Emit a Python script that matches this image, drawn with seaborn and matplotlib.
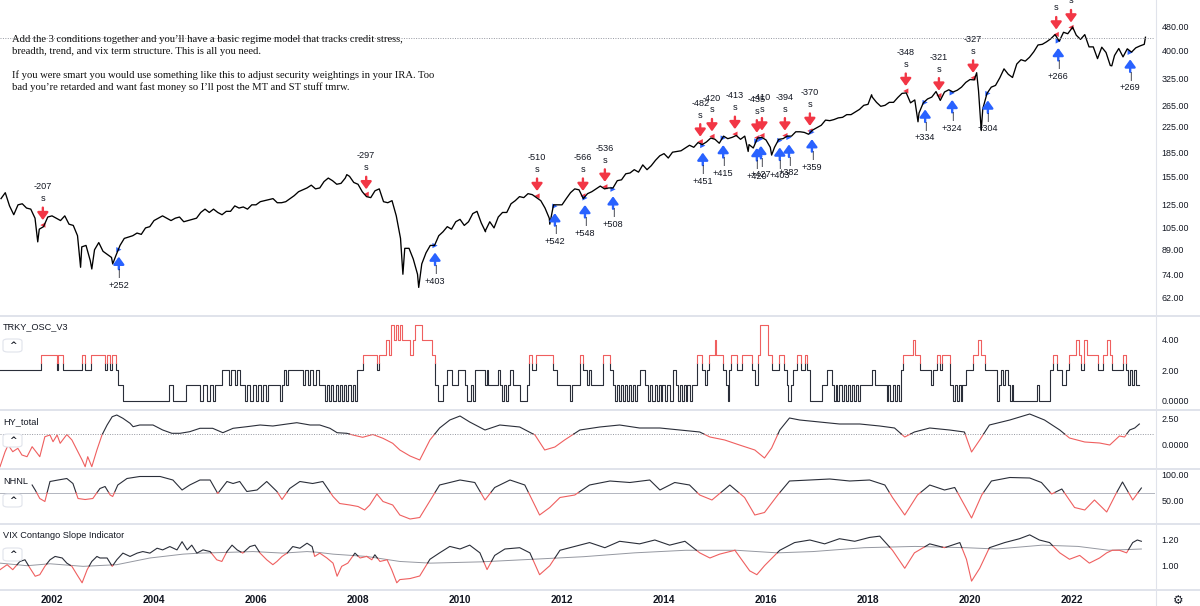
import numpy as np
import pandas as pd
import seaborn as sns
import matplotlib.pyplot as plt
from matplotlib.lines import Line2D
from matplotlib.patches import FancyBboxPatch
from matplotlib.ticker import NullLocator

plt.rcParams['font.family'] = ['Liberation Sans', 'DejaVu Sans']

# ---------------- data ----------------
# SPY month-end closes, Dec 2000 .. May 2023
spy_monthly = [
    131,
    137, 124, 116, 125, 126, 122, 121, 113, 104, 106, 114, 115,  # 2001
    113, 111, 115, 108, 107, 99, 91, 92, 82, 89, 94, 88,         # 2002
    86, 84, 85, 92, 97, 98, 99, 101, 100, 105, 106, 111,         # 2003
    113, 115, 113, 111, 113, 114, 110, 111, 112, 113, 118, 121,  # 2004
    118, 121, 118, 116, 119, 119, 124, 122, 123, 121, 125, 125,  # 2005
    128, 129, 130, 131, 127, 127, 128, 131, 134, 138, 140, 142,  # 2006
    145, 141, 142, 149, 153, 150, 146, 147, 153, 155, 148, 146,  # 2007
    138, 133, 132, 139, 141, 128, 127, 129, 115, 97, 90, 90,     # 2008
    83, 74, 80, 87, 92, 92, 99, 102, 106, 104, 110, 112,         # 2009
    107, 110, 117, 119, 109, 103, 110, 105, 114, 118, 118, 126,  # 2010
    129, 133, 132, 136, 135, 132, 129, 122, 113, 125, 125, 125,  # 2011
    131, 137, 141, 140, 131, 136, 138, 141, 144, 141, 142, 142,  # 2012
    150, 151, 158, 159, 163, 160, 169, 163, 168, 175, 181, 184,  # 2013
    178, 186, 187, 188, 192, 196, 193, 200, 197, 201, 207, 205,  # 2014
    199, 210, 206, 208, 211, 205, 210, 197, 192, 207, 208, 204,  # 2015
    193, 193, 205, 206, 210, 210, 217, 217, 216, 213, 220, 224,  # 2016
    228, 237, 236, 238, 241, 242, 247, 247, 252, 257, 265, 267,  # 2017
    282, 271, 263, 265, 271, 271, 281, 290, 291, 270, 276, 250,  # 2018
    270, 278, 282, 294, 275, 293, 298, 293, 297, 304, 315, 322,  # 2019
    321, 296, 258, 290, 304, 308, 326, 349, 335, 327, 362, 374,  # 2020
    370, 381, 397, 418, 420, 428, 438, 452, 430, 460, 455, 475,  # 2021
    450, 436, 452, 412, 412, 377, 411, 395, 358, 386, 407, 382,  # 2022
    406, 396, 409, 415, 420,                                     # 2023
]
# intramonth extremes and the last print
spy_extra_t = [2001.72, 2002.56, 2002.78, 2003.19, 2007.78, 2008.88, 2009.19, 2010.50, 2011.76,
               2015.65, 2016.11, 2018.07, 2018.98, 2020.13, 2020.22, 2022.01, 2022.78, 2023.44]
spy_extra_p = [94.5, 78, 77, 80, 157, 74, 67, 102, 108,
               187, 182, 287, 234, 339, 219, 479, 357, 443]
last_price = 442

sell_t = [2001.82, 2008.16, 2011.51, 2012.41, 2012.84, 2014.71, 2014.94, 2015.39, 2015.82,
          2015.92, 2016.37, 2016.86, 2018.74, 2019.39, 2020.06, 2021.69, 2021.98]
sell_lbl = ['-207', '-297', '-510', '-566', '-536', '-482', '-420', '-413', '-435',
            '-410', '-394', '-370', '-348', '-321', '-327', '', '']
buy_t = [2003.31, 2009.51, 2011.86, 2012.45, 2013.00, 2014.76, 2015.16, 2015.82, 2015.90,
         2016.27, 2016.45, 2016.90, 2019.12, 2019.65, 2020.35, 2021.73, 2023.14]
buy_lbl = ['+252', '+403', '+542', '+548', '+508', '+451', '+415', '+420', '+427',
           '+403', '+382', '+359', '+334', '+324', '+304', '+266', '+269']

# TRKY_OSC_V3 step changes
trky_t = [2000.98, 2001.78, 2002.10, 2002.12, 2002.21, 2002.59, 2002.65, 2002.76, 2003.04, 2003.08,
          2003.14, 2003.18, 2003.25, 2003.29, 2003.39, 2004.29, 2004.37, 2004.63, 2004.90, 2004.96,
          2005.04, 2005.10, 2005.15, 2005.19, 2005.33, 2005.47, 2005.51, 2005.59, 2005.63, 2005.68,
          2005.78, 2005.82, 2005.88, 2005.94, 2006.00, 2006.04, 2006.10, 2006.13, 2006.19, 2006.23,
          2006.47, 2006.51, 2006.55, 2006.59, 2006.62, 2006.92, 2006.96, 2007.02, 2007.06, 2007.11,
          2007.17, 2007.23, 2007.35, 2007.39, 2007.43, 2007.47, 2007.51, 2007.57, 2007.60, 2007.64,
          2007.68, 2007.72, 2007.76, 2007.80, 2007.86, 2007.90, 2007.94, 2007.98, 2008.09, 2008.37,
          2008.41, 2008.55, 2008.60, 2008.64, 2008.70, 2008.74, 2008.78, 2008.82, 2008.86, 2009.02,
          2009.07, 2009.11, 2009.25, 2009.45, 2009.51, 2009.56, 2009.66, 2009.74, 2009.84, 2009.96,
          2010.09, 2010.13, 2010.21, 2010.25, 2010.29, 2010.49, 2010.53, 2010.54, 2010.74, 2010.78,
          2010.82, 2010.86, 2010.90, 2010.94, 2010.98, 2011.03, 2011.17, 2011.31, 2011.35, 2011.41,
          2011.49, 2011.82, 2011.90, 2012.15, 2012.19, 2012.35, 2012.41, 2012.49, 2012.52, 2012.56,
          2012.80, 2012.94, 2012.99, 2013.03, 2013.07, 2013.11, 2013.15, 2013.19, 2013.23, 2013.27,
          2013.31, 2013.35, 2013.39, 2013.43, 2013.47, 2013.52, 2013.62, 2013.68, 2013.72, 2013.76,
          2013.82, 2013.86, 2013.90, 2013.94, 2013.97, 2014.01, 2014.05, 2014.11, 2014.17, 2014.23,
          2014.27, 2014.31, 2014.35, 2014.39, 2014.43, 2014.46, 2014.50, 2014.54, 2014.64, 2014.74,
          2014.80, 2014.84, 2014.88, 2014.99, 2015.01, 2015.15, 2015.21, 2015.25, 2015.27, 2015.31,
          2015.44, 2015.52, 2015.72, 2015.78, 2015.84, 2015.88, 2016.03, 2016.11, 2016.25, 2016.35,
          2016.41, 2016.44, 2016.48, 2016.52, 2016.60, 2016.68, 2016.76, 2016.80, 2016.86, 2017.09,
          2017.19, 2017.29, 2017.33, 2017.37, 2017.40, 2017.44, 2017.48, 2017.52, 2017.56, 2017.60,
          2017.64, 2017.68, 2017.72, 2017.76, 2017.80, 2017.84, 2018.07, 2018.13, 2018.37, 2018.40,
          2018.44, 2018.48, 2018.52, 2018.56, 2018.60, 2018.64, 2018.68, 2018.89, 2018.93, 2019.01,
          2019.23, 2019.27, 2019.36, 2019.42, 2019.46, 2019.60, 2019.66, 2019.70, 2019.74, 2019.78,
          2019.82, 2019.85, 2019.93, 2020.05, 2020.15, 2020.21, 2020.29, 2020.52, 2020.56, 2020.60,
          2020.64, 2020.68, 2020.74, 2020.78, 2020.82, 2020.85, 2021.31, 2021.36, 2021.56, 2021.62,
          2021.70, 2021.81, 2021.89, 2021.95, 2022.07, 2022.13, 2022.17, 2022.23, 2022.29, 2022.50,
          2022.60, 2022.68, 2022.74, 2022.79, 2022.99, 2023.05, 2023.09, 2023.13, 2023.17, 2023.21,
          2023.25, 2023.32]
trky_v = [2, 3, 2, 3, 2, 3, 2, 3, 2, 3,
          2, 3, 2, 1, 0, 1, 0, 1, 0, 1,
          0, 1, 0, 1, 2, 1, 2, 1, 2, 1,
          0, 1, 0, 1, 0, 1, 0, 1, 0, 1,
          0, 1, 2, 1, 2, 1, 2, 1, 2, 1,
          2, 1, 0, 1, 0, 1, 0, 1, 0, 1,
          0, 1, 0, 1, 0, 1, 0, 2, 3, 2,
          3, 4, 3, 5, 4, 5, 4, 5, 4, 3,
          4, 5, 4, 3, 1, 0, 1, 2, 1, 2,
          1, 0, 1, 0, 2, 1, 2, 1, 2, 1,
          0, 1, 0, 1, 2, 1, 0, 1, 3, 2,
          3, 2, 1, 0, 1, 3, 2, 1, 2, 1,
          3, 2, 1, 0, 1, 0, 1, 0, 1, 0,
          1, 0, 1, 0, 1, 2, 1, 0, 1, 0,
          1, 0, 1, 0, 1, 0, 1, 0, 2, 1,
          0, 1, 0, 1, 0, 1, 0, 1, 3, 2,
          1, 2, 3, 4, 3, 2, 1, 0, 2, 3,
          2, 3, 2, 1, 3, 5, 3, 2, 3, 2,
          1, 0, 1, 2, 3, 2, 3, 2, 0, 1,
          2, 1, 0, 1, 0, 1, 0, 1, 0, 1,
          0, 1, 0, 1, 0, 1, 2, 1, 0, 1,
          0, 1, 0, 1, 0, 2, 3, 4, 3, 2,
          1, 2, 3, 2, 3, 1, 0, 1, 0, 1,
          0, 1, 2, 3, 4, 3, 2, 0, 1, 2,
          1, 2, 1, 0, 1, 0, 1, 0, 2, 3,
          2, 1, 2, 3, 4, 3, 2, 4, 3, 2,
          3, 4, 3, 2, 3, 2, 1, 2, 1, 2,
          1, 1]

hy_t = [2000.98, 2001.08, 2001.14, 2001.23, 2001.33, 2001.41, 2001.51, 2001.61, 2001.71, 2001.76,
        2001.86, 2001.96, 2002.02, 2002.10, 2002.16, 2002.29, 2002.39, 2002.49, 2002.59, 2002.65,
        2002.70, 2002.78, 2002.88, 2002.98, 2003.08, 2003.18, 2003.27, 2003.39, 2003.53, 2003.59,
        2003.72, 2003.98, 2004.17, 2004.35, 2004.51, 2004.70, 2004.90, 2005.15, 2005.35, 2005.55,
        2005.82, 2006.08, 2006.33, 2006.61, 2006.80, 2007.06, 2007.25, 2007.45, 2007.59, 2007.78,
        2007.90, 2008.09, 2008.29, 2008.49, 2008.68, 2008.82, 2009.02, 2009.21, 2009.41, 2009.60,
        2009.80, 2010.00, 2010.19, 2010.49, 2010.78, 2011.17, 2011.47, 2011.66, 2011.86, 2012.05,
        2012.35, 2012.74, 2013.13, 2013.52, 2013.92, 2014.31, 2014.70, 2014.90, 2015.19, 2015.48,
        2015.78, 2015.97, 2016.11, 2016.27, 2016.46, 2016.66, 2017.05, 2017.44, 2017.84, 2018.23,
        2018.52, 2018.72, 2018.91, 2019.21, 2019.60, 2019.89, 2020.03, 2020.19, 2020.38, 2020.78,
        2021.17, 2021.46, 2021.76, 2021.95, 2022.25, 2022.54, 2022.74, 2022.93, 2023.03, 2023.13,
        2023.23, 2023.32]
hy_v = [-2.27, -0.77, -0.1, -0.77, -0.43, -1.1, -1.27, -0.27, -0.93, -1.27,
        0.73, 0.9, 0.23, 0.9, 0.07, 0.95, 0.4, -0.6, -1.6, -2.27,
        -1.27, -2.27, -0.6, 0.9, 1.9, 2.73, 2.9, 2.57, 2.07, 1.73,
        1.9, 1.9, 1.4, 1.07, 1.07, 1.23, 1.57, 1.57, 1.13, 1.57,
        1.73, 1.9, 1.8, 2.0, 2.13, 1.9, 1.9, 1.57, 1.13, 1.07,
        0.9, 0.67, 0.95, 0.57, 0.07, -0.6, -1.2, -1.6, 0.4, 1.6,
        2.4, 2.8, 2.2, 1.4, 1.9, 1.7, 0.9, -0.6, -0.3, 0.4,
        1.4, 1.7, 1.9, 1.6, 1.6, 1.4, 1.2, 0.7, 0.4, -0.1,
        -0.6, -1.4, -0.4, 1.4, 2.6, 2.4, 2.2, 2.0, 2.0, 1.8,
        1.6, 0.7, 1.2, 1.6, 1.4, 1.2, -0.8, 0.4, 1.9, 2.4,
        3.0, 2.4, 1.4, 0.6, 0.2, 0.1, -0.1, 0.8, 0.7, 1.4,
        1.6, 2.0]
hy_level = 1.0

nhnl_t = [2001.61, 2001.67, 2001.76, 2001.86, 2001.96, 2002.12, 2002.29, 2002.41, 2002.51, 2002.65,
          2002.80, 2002.94, 2003.04, 2003.14, 2003.19, 2003.29, 2003.47, 2003.72, 2004.12, 2004.37,
          2004.55, 2004.70, 2004.90, 2005.10, 2005.25, 2005.43, 2005.55, 2005.68, 2005.82, 2006.02,
          2006.21, 2006.41, 2006.51, 2006.66, 2006.86, 2007.11, 2007.31, 2007.51, 2007.64, 2007.84,
          2008.00, 2008.13, 2008.23, 2008.37, 2008.49, 2008.68, 2008.82, 2009.02, 2009.21, 2009.60,
          2010.00, 2010.29, 2010.49, 2010.68, 2010.98, 2011.27, 2011.56, 2011.76, 2011.96, 2012.25,
          2012.54, 2012.94, 2013.33, 2013.72, 2013.92, 2014.21, 2014.50, 2014.70, 2014.94, 2015.29,
          2015.58, 2015.78, 2015.97, 2016.23, 2016.46, 2016.86, 2017.25, 2017.64, 2018.03, 2018.33,
          2018.48, 2018.72, 2018.97, 2019.21, 2019.50, 2019.70, 2019.89, 2020.03, 2020.23, 2020.42,
          2020.78, 2021.17, 2021.40, 2021.60, 2021.80, 2022.05, 2022.25, 2022.44, 2022.54, 2022.68,
          2022.87, 2022.99, 2023.19, 2023.36]
nhnl_v = [80, 70, 53, 47, 87, 90, 93, 83, 53, 51,
          53, 73, 77, 60, 57, 80, 93, 97, 97, 90,
          70, 80, 90, 90, 63, 87, 83, 87, 67, 70,
          87, 67, 51, 73, 87, 83, 87, 57, 43, 40,
          37, 30, 40, 62, 47, 40, 20, 12, 15, 80,
          90, 85, 50, 75, 90, 80, 20, 35, 55, 60,
          80, 88, 85, 90, 70, 85, 80, 60, 50, 80,
          55, 20, 25, 60, 88, 90, 92, 88, 90, 80,
          55, 20, 60, 80, 70, 75, 40, 14, 60, 88,
          95, 94, 85, 62, 72, 35, 30, 50, 40, 26,
          64, 86, 50, 74]
nhnl_level = 65

vix_t = [2000.98, 2001.12, 2001.23, 2001.37, 2001.47, 2001.57, 2001.67, 2001.76, 2001.86, 2001.96,
         2002.06, 2002.20, 2002.29, 2002.39, 2002.49, 2002.59, 2002.69, 2002.78, 2002.88, 2002.94,
         2003.08, 2003.18, 2003.27, 2003.39, 2003.53, 2003.67, 2003.78, 2003.92, 2004.06, 2004.17,
         2004.31, 2004.45, 2004.55, 2004.65, 2004.74, 2004.84, 2004.96, 2005.10, 2005.23, 2005.33,
         2005.43, 2005.53, 2005.63, 2005.74, 2005.88, 2005.98, 2006.08, 2006.21, 2006.33, 2006.41,
         2006.51, 2006.61, 2006.72, 2006.86, 2007.00, 2007.10, 2007.15, 2007.25, 2007.39, 2007.51,
         2007.59, 2007.68, 2007.80, 2007.94, 2008.04, 2008.17, 2008.27, 2008.33, 2008.43, 2008.57,
         2008.66, 2008.76, 2008.82, 2009.02, 2009.21, 2009.41, 2009.60, 2009.80, 2010.00, 2010.19,
         2010.39, 2010.53, 2010.68, 2010.88, 2011.17, 2011.37, 2011.56, 2011.76, 2011.96, 2012.25,
         2012.54, 2012.84, 2013.13, 2013.52, 2013.82, 2014.11, 2014.41, 2014.70, 2014.90, 2015.09,
         2015.39, 2015.68, 2015.82, 2015.97, 2016.27, 2016.56, 2016.86, 2017.15, 2017.44, 2017.74,
         2018.03, 2018.23, 2018.48, 2018.72, 2018.91, 2019.21, 2019.50, 2019.80, 2019.93, 2020.03,
         2020.19, 2020.38, 2020.68, 2020.97, 2021.17, 2021.36, 2021.56, 2021.76, 2021.95, 2022.15,
         2022.34, 2022.54, 2022.68, 2022.79, 2022.93, 2023.07, 2023.19, 2023.28, 2023.36]
vix_v = [0.969, 1.008, 0.969, 1.033, 1.046, 0.98, 0.918, 0.93, 0.995, 1.046,
         1.072, 1.06, 1.02, 0.995, 0.93, 0.867, 0.97, 1.033, 1.072, 1.06,
         1.06, 0.995, 1.046, 1.098, 1.072, 1.098, 1.11, 1.098, 1.136, 1.123,
         1.149, 1.123, 1.187, 1.123, 1.16, 1.098, 1.123, 1.11, 1.046, 1.033,
         1.11, 1.16, 1.123, 1.098, 1.149, 1.16, 1.098, 1.046, 1.008, 1.033,
         1.072, 1.098, 1.149, 1.136, 1.175, 1.149, 1.072, 1.098, 1.06, 1.02,
         0.918, 0.995, 1.02, 1.098, 1.06, 1.072, 1.046, 1.085, 1.033, 1.046,
         0.969, 0.867, 0.892, 0.90, 0.92, 1.05, 1.10, 1.15, 1.13, 1.16,
         1.10, 0.97, 1.08, 1.13, 1.14, 1.10, 0.93, 1.00, 1.12, 1.15,
         1.18, 1.14, 1.19, 1.17, 1.20, 1.16, 1.19, 1.10, 1.06, 1.09,
         1.12, 0.96, 0.93, 1.00, 1.12, 1.18, 1.20, 1.17, 1.21, 1.19,
         1.22, 1.23, 1.12, 0.98, 1.10, 1.17, 1.14, 1.18, 1.05, 0.88,
         0.98, 1.14, 1.18, 1.21, 1.24, 1.20, 1.18, 1.10, 1.05, 1.08,
         1.02, 1.06, 1.10, 1.12, 1.12, 1.10, 1.18, 1.20, 1.19]
vix_ma_t = [2000.98, 2001.51, 2001.96, 2002.61, 2003.27, 2003.92, 2004.57, 2004.90, 2005.55, 2005.94,
            2006.53, 2007.00, 2007.19, 2007.51, 2008.17, 2008.82, 2009.42, 2010.42, 2011.42, 2012.42,
            2013.42, 2014.42, 2015.42, 2016.22, 2016.92, 2017.92, 2018.92, 2019.92, 2020.52, 2021.42,
            2022.12, 2022.72, 2023.36]
vix_ma_v = [1.02, 1.0, 1.015, 0.995, 1.008, 1.06, 1.09, 1.098, 1.105, 1.11,
            1.098, 1.11, 1.105, 1.09, 1.072, 1.033, 1.02, 1.03, 1.05, 1.07,
            1.10, 1.12, 1.12, 1.10, 1.11, 1.14, 1.15, 1.14, 1.13, 1.16,
            1.15, 1.12, 1.13]

price_ticks = [480, 400, 325, 265, 225, 185, 155, 125, 105, 89, 74, 62]
year_ticks = list(range(2002, 2023, 2))
note_lines = [
    'Add the 3 conditions together and you\u2019ll have a basic regime model that tracks credit stress,',
    'breadth, trend, and vix term structure. This is all you need.',
    'If you were smart you would use something like this to adjust security weightings in your IRA. Too',
    'bad you\u2019re retarded and want fast money so I\u2019ll post the MT and ST stuff tmrw.',
]

# ---------------- styling ----------------
W, H = 1200, 606
X0, X1 = 2000.98, 2000.98 + 1155 / 51
TXT = '#131722'
DARK = '#2a2e39'
RED_LINE = '#ef5f5f'
RED = '#f23645'
BLUE = '#2962ff'
SEP = '#e0e3eb'


def split_runs(t, v, thr, above=False):
    """Split a line at the threshold so each run can take its own colour."""
    t = np.asarray(t, float)
    v = np.asarray(v, float)
    thr = np.broadcast_to(np.asarray(thr, float), v.shape)
    d = v - thr
    flag = (lambda x: x > 0) if above else (lambda x: x < 0)
    seg, state = 0, flag(d[0])
    rows = [(t[0], v[0], seg, state)]
    for i in range(1, len(t)):
        s = flag(d[i])
        if s != state:
            f = d[i - 1] / (d[i - 1] - d[i])
            xc = t[i - 1] + f * (t[i] - t[i - 1])
            yc = v[i - 1] + f * (v[i] - v[i - 1])
            rows.append((xc, yc, seg, state))
            seg += 1
            state = s
            rows.append((xc, yc, seg, state))
        rows.append((t[i], v[i], seg, state))
    df = pd.DataFrame(rows, columns=['t', 'v', 'seg', 'hot'])
    df['tone'] = np.where(df['hot'], 'hot', 'cool')
    return df


def two_tone(ax, df, lw=0.8):
    sns.lineplot(data=df, x='t', y='v', hue='tone', units='seg', estimator=None, sort=False,
                 palette={'hot': RED_LINE, 'cool': DARK}, legend=False, lw=lw, ax=ax)


def style(ax, ylim, ticks, labels):
    ax.set_xlim(X0, X1)
    ax.set_ylim(*ylim)
    ax.yaxis.set_minor_locator(NullLocator())
    ax.set_yticks(ticks)
    ax.set_yticklabels(labels)
    ax.yaxis.tick_right()
    ax.tick_params(axis='y', length=0, pad=4.5, labelsize=6.4, labelcolor=TXT)
    ax.set_xticks([])
    ax.set_xlabel('')
    ax.set_ylabel('')
    for s in ax.spines.values():
        s.set_visible(False)


fig = plt.figure(figsize=(12, 6.06), dpi=100)
fig.patch.set_facecolor('white')


def pane(top, bot):
    return fig.add_axes([0, 1 - bot / H, 1155 / W, (bot - top) / H])


ax_p = pane(0, 315)
ax_o = pane(316, 409)
ax_h = pane(410, 468)
ax_n = pane(469, 523)
ax_v = pane(524, 589)

# ---- price pane ----
spy_t = [2001.0 + k / 12 for k in range(len(spy_monthly))]
price = pd.DataFrame({'t': spy_t + spy_extra_t, 'p': spy_monthly + spy_extra_p}).sort_values('t')
sns.lineplot(data=price, x='t', y='p', color='black', lw=0.95, estimator=None, sort=False, ax=ax_p)
ax_p.set_yscale('log')
ax_p.axhline(last_price, color='#9598a1', lw=0.7, ls=(0, (1, 1.5)))
style(ax_p, (54.4, 587), price_ticks, [f'{v:.2f}' for v in price_ticks])

log_p = np.log(price['p'].to_numpy())
sell_p = np.exp(np.interp(sell_t, price['t'], log_p))
buy_p = np.exp(np.interp(buy_t, price['t'], log_p))

sns.scatterplot(x=sell_t, y=sell_p * 1.015, marker='<', s=14, color=RED, edgecolor='none', ax=ax_p)
sns.scatterplot(x=buy_t, y=buy_p * 0.99, marker='>', s=14, color=BLUE, edgecolor='none', ax=ax_p)

arrow = dict(arrowstyle='-|>,head_width=0.4,head_length=0.55', lw=1.7, mutation_scale=8, shrinkA=0)
lab = dict(ha='center', va='center', fontsize=6.6, color=TXT, textcoords='offset points')
for t, p, s in zip(sell_t, sell_p, sell_lbl):
    ax_p.annotate('', xy=(t, p), xytext=(0, 14), textcoords='offset points',
                  arrowprops=dict(arrow, color=RED, shrinkB=5))
    ax_p.annotate('s', xy=(t, p), xytext=(0, 20.5), **lab)
    ax_p.annotate(s, xy=(t, p), xytext=(0, 29), **lab)
for t, p, s in zip(buy_t, buy_p, buy_lbl):
    ax_p.annotate('', xy=(t, p), xytext=(0, -15), textcoords='offset points',
                  arrowprops=dict(arrow, color=BLUE, shrinkB=6))
    ax_p.annotate('|', xy=(t, p), xytext=(0, -18), **lab)
    ax_p.annotate(s, xy=(t, p), xytext=(0, -26.5), **lab)

# ---- TRKY_OSC_V3 ----
st, sv = [trky_t[0]], [trky_v[0]]
for i in range(1, len(trky_t)):
    st += [trky_t[i], trky_t[i]]
    sv += [trky_v[i - 1], trky_v[i]]
two_tone(ax_o, split_runs(st, sv, 2.5, above=True), lw=0.8)
style(ax_o, (-0.55, 5.57), [4, 2, 0], ['4.00', '2.00', '0.0000'])

# ---- HY_total ----
two_tone(ax_h, split_runs(hy_t, hy_v, hy_level))
ax_h.axhline(hy_level, color='#9598a1', lw=0.7, ls=(0, (1, 1.5)))
style(ax_h, (-2.4, 3.4), [2.5, 0], ['2.50', '0.0000'])

# ---- NHNL ----
ax_n.axhline(nhnl_level, color='#b2b5be', lw=0.7)
two_tone(ax_n, split_runs(nhnl_t, nhnl_v, nhnl_level))
style(ax_n, (4, 112), [100, 50], ['100.00', '50.00'])

# ---- VIX contango slope ----
sns.lineplot(x=vix_ma_t, y=vix_ma_v, color='#9598a1', lw=0.7, estimator=None, ax=ax_v)
two_tone(ax_v, split_runs(vix_t, vix_v, np.interp(vix_t, vix_ma_t, vix_ma_v)))
style(ax_v, (0.8187, 1.3245), [1.2, 1.0], ['1.20', '1.00'])
ax_v.set_xticks(year_ticks)
ax_v.set_xticklabels([str(y) for y in year_ticks], fontweight='bold', fontsize=7.3, color=TXT)
ax_v.tick_params(axis='x', length=0, pad=4.5)

# ---- pane titles and collapse buttons ----
for name, ty, by in [('TRKY_OSC_V3', 327, 345), ('HY_total', 422, 440),
                     ('NHNL', 482, 500), ('VIX Contango Slope Indicator', 536, 554)]:
    fig.text(3 / W, 1 - ty / H, name, fontsize=6.6, color=TXT, va='center', ha='left')
    fig.add_artist(FancyBboxPatch((3 / W, 1 - (by + 7) / H), 19 / W, 13 / H,
                                  boxstyle='round,pad=0,rounding_size=0.004',
                                  transform=fig.transFigure, fc='white', ec=SEP, lw=0.8))
    fig.text(12.5 / W, 1 - (by + 0.5) / H, '^', fontsize=6.5, color=TXT, va='center', ha='center',
             family='DejaVu Sans', fontweight='bold')

# ---- separators ----
for y in [315.5, 409.5, 468.5, 523.5, 589.5]:
    fig.add_artist(Line2D([0, 1], [1 - y / H] * 2, transform=fig.transFigure, color=SEP, lw=1.4))
fig.add_artist(Line2D([1155.5 / W] * 2, [0, 1], transform=fig.transFigure, color=SEP, lw=0.8))
fig.text(1178 / W, 1 - 600 / H, '\u2699', fontsize=8.5, color=TXT, ha='center', va='center',
         family='DejaVu Sans')

# ---- overlay note ----
for line, yc in zip(note_lines, [39, 51.5, 75, 87.5]):
    fig.text(11.5 / W, 1 - yc / H, line, family='Liberation Serif', fontsize=7.65,
             color='#111111', va='center', ha='left')

fig.savefig('out.png', dpi=100, facecolor='white')
